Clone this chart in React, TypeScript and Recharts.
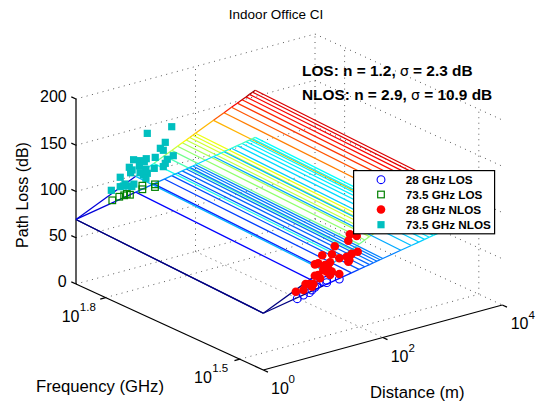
import React from "react";
import { ComposedChart, Line, Scatter, XAxis, YAxis, Legend } from "recharts";

const WIDTH = 546;
const HEIGHT = 405;
const FONT = "'Liberation Sans', Arial, sans-serif";

// Mesh of the two fitted CI surfaces
const meshDistances = [1, 10, 20, 30, 40, 50, 60, 70, 80, 90, 100, 200, 300, 400, 500, 600, 700, 800, 900, 1000];
const los28 = [61.4, 73.4, 77.0, 79.1, 80.6, 81.8, 82.7, 83.5, 84.2, 84.8, 85.4, 89.0, 91.1, 92.6, 93.8, 94.7, 95.5, 96.2, 96.8, 97.4];
const los73 = [69.8, 81.8, 85.4, 87.5, 89.0, 90.2, 91.1, 91.9, 92.6, 93.2, 93.8, 97.4, 99.5, 101.0, 102.2, 103.1, 103.9, 104.6, 105.2, 105.8];
const nlos28 = [61.4, 90.4, 99.1, 104.2, 107.9, 110.7, 113.0, 114.9, 116.6, 118.1, 119.4, 128.1, 133.2, 136.9, 139.7, 142.0, 143.9, 145.6, 147.1, 148.4];
const nlos73 = [69.8, 98.8, 107.5, 112.6, 116.3, 119.1, 121.4, 123.3, 125.0, 126.5, 127.8, 136.5, 141.6, 145.3, 148.1, 150.4, 152.3, 154.0, 155.5, 156.8];

// Measurements: distance (m) and path loss (dB)
const los28Dist = [3.7, 4.7, 5.9, 6.5, 7.3, 7.8, 11.5, 11.5, 18.7];
const los28Pl = [67.1, 69.2, 70.1, 72.2, 74.2, 76.2, 75.8, 78.4, 76];
const los73Dist = [4.05, 5.3, 6.4, 7.1, 8.0, 12.9, 12.9, 21, 21];
const los73Pl = [79.8, 81.6, 81.7, 82.4, 80.6, 86.8, 82.9, 84.5, 81.6];
const nlos28Dist = [3.5, 5.1, 5.9, 4.7, 6.9, 7.3, 8.3, 8.9, 10.1, 11.5, 13.1, 18.7, 10.8, 13.1, 12.2, 14, 7.3, 8.3, 9.7, 14.1, 15.7, 18.7, 24.9, 26.5, 30.2, 38, 27.5, 26.5, 28.2, 36.6, 6.5];
const nlos28Pl = [75.1, 80.5, 79.5, 74.7, 78.3, 86.7, 86.5, 82.5, 90.5, 87.7, 83.1, 81.4, 95.4, 96.9, 90.8, 86.2, 99, 99.1, 106.7, 104.9, 112.8, 98.4, 97.9, 92.1, 99.5, 100.1, 93.6, 114.8, 121.2, 117.4, 75.8];
const nlos73Dist = [40, 15.6, 31.2, 25.8, 28.9, 42.5, 21.2, 15, 9.2, 11.8, 33.7, 13.9, 31.2, 11.5, 7.8, 28.9, 20.4, 8.7, 14.8, 11.8, 8.2, 15.6, 13.4, 14.8, 5.5, 9.3, 6.6, 5.5, 7.5, 8.6, 3.9, 6.2];
const nlos73Pl = [141.9, 141.9, 126.9, 121.9, 118.9, 110.1, 113.6, 114.8, 117.4, 114.5, 108, 112.1, 104.2, 109, 110.5, 101.2, 102, 106.8, 103.5, 101.5, 104.2, 98.7, 98.1, 93.7, 102.4, 91, 93.7, 92.2, 90.6, 88.9, 90.9, 92];

// Axes
const zTicks = [0, 50, 100, 150, 200];
const freqTicks = [63.1, 31.6];
const distTicks = [1, 100, 10000];
const F_HIGH = 73.5;
const F_LOW = 28;
const D_MIN = 1;
const D_MAX = 10000;
const Z_MAX = 200;
const C_MIN = 61.4;
const C_MAX = 156.8;

const legendLabels = ["28 GHz LOS", "73.5 GHz LOS", "28 GHz NLOS", "73.5 GHz NLOS"];

// The view of the 3-D box, from value space to the page
const freqFrac = (f: number) => (Math.log10(F_HIGH) - Math.log10(f)) / (Math.log10(F_HIGH) - Math.log10(F_LOW));
const viewPoint = (L: number, F: number, z: number) => ({
  px: 76 + 59.75 * L + 187.3 * F,
  py: 284 - 16.25 * L + 86 * F - 0.925 * z,
});
const project = (d: number, f: number, z: number) => viewPoint(Math.log10(d), freqFrac(f), z);

const jet = (t: number) => {
  const c = (v: number) => Math.round(255 * Math.max(0, Math.min(1, v)));
  const r = Math.min(4 * t - 1.5, -4 * t + 4.5);
  const g = Math.min(4 * t - 0.5, -4 * t + 3.5);
  const b = Math.min(4 * t + 0.5, -4 * t + 2.5);
  return `rgb(${c(r)},${c(g)},${c(b)})`;
};
const zColor = (z: number) => jet((z - C_MIN) / (C_MAX - C_MIN));

type Seg = { key: string; color: string; data: { px: number; py: number }[] };

const surfaceSegments = (name: string, low: number[], high: number[]): Seg[] => {
  const out: Seg[] = [];
  meshDistances.forEach((d, i) => {
    out.push({
      key: `${name}-d${d}`,
      color: zColor(low[i]),
      data: [project(d, F_HIGH, high[i]), project(d, F_LOW, low[i])],
    });
    if (i < meshDistances.length - 1) {
      const next = meshDistances[i + 1];
      out.push({
        key: `${name}-h${d}`,
        color: zColor(high[i]),
        data: [project(d, F_HIGH, high[i]), project(next, F_HIGH, high[i + 1])],
      });
      out.push({
        key: `${name}-l${d}`,
        color: zColor(low[i]),
        data: [project(d, F_LOW, low[i]), project(next, F_LOW, low[i + 1])],
      });
    }
  });
  return out;
};

const meshSegments = [...surfaceSegments("nlos", nlos28, nlos73), ...surfaceSegments("los", los28, los73)];

const gridSegments: Seg[] = [];
const addGrid = (key: string, a: { px: number; py: number }, b: { px: number; py: number }) =>
  gridSegments.push({ key, color: "#5a5a5a", data: [a, b] });
zTicks.forEach((z) => {
  addGrid(`back-${z}`, project(D_MIN, F_HIGH, z), project(D_MAX, F_HIGH, z));
  addGrid(`right-${z}`, project(D_MAX, F_HIGH, z), project(D_MAX, F_LOW, z));
});
[100, D_MAX].forEach((d) => addGrid(`vd-${d}`, project(d, F_HIGH, 0), project(d, F_HIGH, Z_MAX)));
addGrid("floor-d", project(100, F_HIGH, 0), project(100, F_LOW, 0));
freqTicks.forEach((f) => {
  addGrid(`floor-f${f}`, project(D_MIN, f, 0), project(D_MAX, f, 0));
  addGrid(`vf-${f}`, project(D_MAX, f, 0), project(D_MAX, f, Z_MAX));
});

const axisSegments: Seg[] = [
  { key: "ax-z", color: "#000", data: [project(D_MIN, F_HIGH, 0), project(D_MIN, F_HIGH, Z_MAX)] },
  { key: "ax-f", color: "#000", data: [project(D_MIN, F_HIGH, 0), project(D_MIN, F_LOW, 0)] },
  { key: "ax-d", color: "#000", data: [project(D_MIN, F_LOW, 0), project(D_MAX, F_LOW, 0)] },
];
zTicks.forEach((z) =>
  axisSegments.push({ key: `tz-${z}`, color: "#000", data: [viewPoint(0, 0, z), viewPoint(0, -0.025, z)] })
);
freqTicks.forEach((f) =>
  axisSegments.push({ key: `tf-${f}`, color: "#000", data: [viewPoint(0, freqFrac(f), 0), viewPoint(-0.09, freqFrac(f), 0)] })
);
distTicks.forEach((d) =>
  axisSegments.push({
    key: `td-${d}`,
    color: "#000",
    data: [viewPoint(Math.log10(d), 1, 0), viewPoint(Math.log10(d), 1.025, 0)],
  })
);

const points = (ds: number[], pls: number[], f: number) => ds.map((d, i) => project(d, f, pls[i]));

const openCircle = (p: any) => <circle cx={p.cx} cy={p.cy} r={3.9} fill="none" stroke="#0000ff" strokeWidth={1.1} />;
const openSquare = (p: any) => <rect x={p.cx - 3.3} y={p.cy - 3.3} width={6.6} height={6.6} fill="none" stroke="#008000" strokeWidth={1.2} />;
const redDot = (p: any) => <circle cx={p.cx} cy={p.cy} r={4.3} fill="#ff0000" />;
const tealSquare = (p: any) => <rect x={p.cx - 3.6} y={p.cy - 3.6} width={7.2} height={7.2} fill="#00bfbf" />;

const line = (s: Seg, dash?: string) => (
  <Line
    key={s.key}
    data={s.data}
    dataKey="py"
    stroke={s.color}
    strokeWidth={dash ? 1 : 1.25}
    strokeDasharray={dash}
    dot={false}
    activeDot={false}
    legendType="none"
    isAnimationActive={false}
  />
);

const Exp = ({ x, y, base, sup, supX, supY }: any) => (
  <g fontFamily={FONT} fill="#000">
    <text x={x} y={y} fontSize={16}>{base}</text>
    <text x={supX} y={supY} fontSize={11.5}>{sup}</text>
  </g>
);

const Note = ({ y, head, sigma }: any) => (
  <text x={302} y={y} fontFamily={FONT} fontSize={15.4} fontWeight="bold" fill="#000">
    {head}
    <tspan fontWeight="normal" fontFamily="'DejaVu Sans', sans-serif" fontSize={14}>σ</tspan>
    {sigma}
  </text>
);

const legendY = [9.7, 24.5, 39.5, 54.7];
const LegendBox = () => (
  <svg width={143} height={65} style={{ display: "block" }}>
    <rect x={0.6} y={0.6} width={141} height={63.2} fill="#fff" stroke="#000" strokeWidth={1.2} />
    {openCircle({ cx: 28, cy: legendY[0] })}
    {openSquare({ cx: 28, cy: legendY[1] })}
    {redDot({ cx: 28, cy: legendY[2] })}
    {tealSquare({ cx: 28, cy: legendY[3] })}
    {legendLabels.map((t, i) => (
      <text key={t} x={52.7} y={legendY[i] + 4} fontFamily={FONT} fontSize={11.7} fontWeight="bold" fill="#000">{t}</text>
    ))}
  </svg>
);

export default function App() {
  return (
    <div style={{ position: "absolute", left: 0, top: 0, width: WIDTH, height: HEIGHT }}>
      <ComposedChart width={WIDTH} height={HEIGHT} margin={{ top: 0, right: 0, bottom: 0, left: 0 }}>
        <XAxis type="number" dataKey="px" domain={[0, WIDTH]} hide allowDataOverflow />
        <YAxis type="number" domain={[0, HEIGHT]} reversed hide allowDataOverflow width={0} />
        {gridSegments.map((s) => line(s, "1 4.5"))}
        {axisSegments.map((s) => line(s))}
        <Scatter name="73.5 GHz NLOS" data={points(nlos73Dist, nlos73Pl, F_HIGH)} dataKey="py" shape={tealSquare} isAnimationActive={false} />
        {meshSegments.map((s) => line(s))}
        <Scatter name="73.5 GHz LOS" data={points(los73Dist, los73Pl, F_HIGH)} dataKey="py" shape={openSquare} isAnimationActive={false} />
        <Scatter name="28 GHz LOS" data={points(los28Dist, los28Pl, F_LOW)} dataKey="py" shape={openCircle} isAnimationActive={false} />
        <Scatter name="28 GHz NLOS" data={points(nlos28Dist, nlos28Pl, F_LOW)} dataKey="py" shape={redDot} isAnimationActive={false} />

        <text x={276} y={19} textAnchor="middle" fontFamily={FONT} fontSize={13.5} fill="#000">Indoor Office CI</text>
        {zTicks.map((z) => (
          <text key={z} x={66.7} y={project(D_MIN, F_HIGH, z).py + 3.4} textAnchor="end" fontFamily={FONT} fontSize={16} fill="#000">{z}</text>
        ))}
        <Exp x={61.7} y={322} base="10" sup="1.8" supX={79.8} supY={311} />
        <Exp x={194} y={382.7} base="10" sup="1.5" supX={212.2} supY={372} />
        <Exp x={271} y={394} base="10" sup="0" supX={288.5} supY={383} />
        <Exp x={390.7} y={361.7} base="10" sup="2" supX={408.5} supY={351.7} />
        <Exp x={510.7} y={329.3} base="10" sup="4" supX={528.5} supY={319} />
        <text x={36} y={392} fontFamily={FONT} fontSize={16.7} fill="#000">Frequency (GHz)</text>
        <text x={370} y={398} fontFamily={FONT} fontSize={16.7} fill="#000">Distance (m)</text>
        <text transform="translate(28,195) rotate(-90)" textAnchor="middle" fontFamily={FONT} fontSize={16} fill="#000">Path Loss (dB)</text>
        <Note y={76} head="LOS: n = 1.2, " sigma=" = 2.3 dB" />
        <Note y={99.5} head="NLOS: n = 2.9, " sigma=" = 10.9 dB" />

        <Legend
          layout="horizontal"
          verticalAlign="middle"
          align="center"
          wrapperStyle={{ left: 353, top: 170, width: 143, height: 65, margin: 0, padding: 0 }}
          content={() => <LegendBox />}
        />
      </ComposedChart>
    </div>
  );
}
